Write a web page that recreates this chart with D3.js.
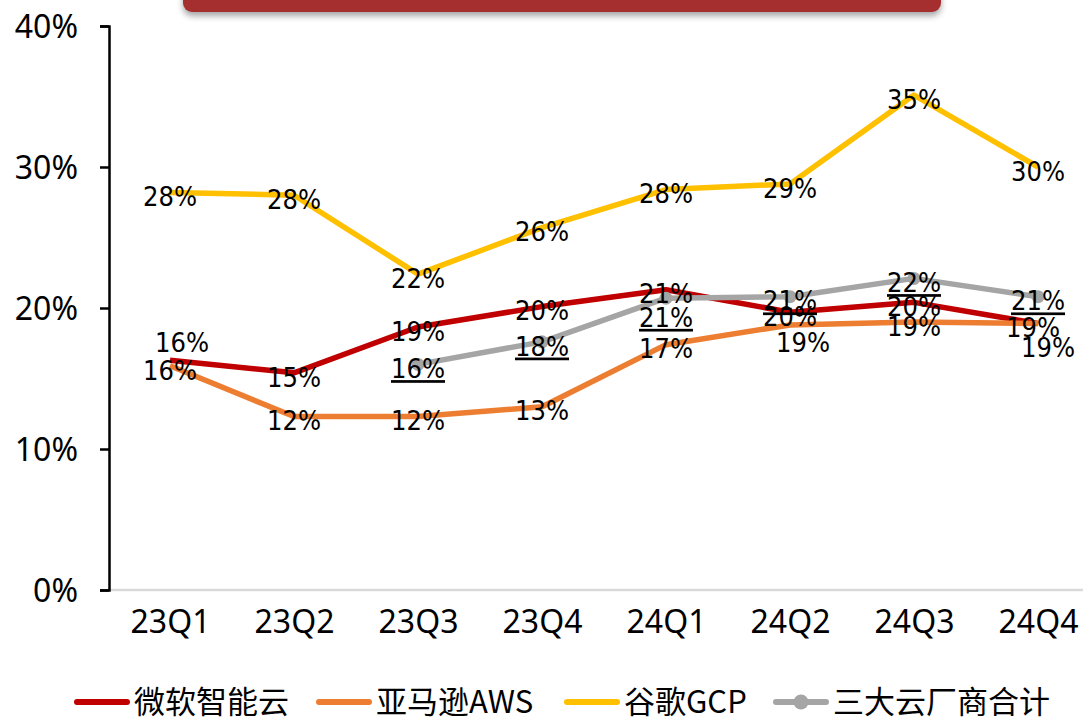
<!DOCTYPE html>
<html lang="zh">
<head>
<meta charset="utf-8">
<title>cloud growth</title>
<script src="https://cdn.jsdelivr.net/npm/d3@7"></script>
<style>
  body { margin: 0; background: #fff; }
  svg { display: block; }
  .tick text { font-family: "Noto Sans", "Open Sans", sans-serif; font-size: 32px; fill: #000; }
  .lbl { font-family: "DejaVu Sans Condensed", "DejaVu Sans", sans-serif; font-stretch: condensed; font-size: 27px; fill: #000; text-anchor: middle; }
  .legend text { font-family: "Noto Sans CJK SC", "Noto Sans", sans-serif; font-size: 31px; fill: #000; }
</style>
</head>
<body>
<div id="chart"></div>
<script>
// quarters and growth rates (yoy)
var quarters = ["23Q1", "23Q2", "23Q3", "23Q4", "24Q1", "24Q2", "24Q3", "24Q4"];
var azure = [0.163, 0.154, 0.1865, 0.201, 0.213, 0.197, 0.204, 0.189];
var aws   = [0.159, 0.123, 0.123, 0.130, 0.174, 0.188, 0.190, 0.189];
var gcp   = [0.282, 0.280, 0.224, 0.257, 0.284, 0.288, 0.351, 0.300];
var total = [null, null, 0.160, 0.176, 0.207, 0.208, 0.221, 0.208];
var yTicks = [0, 0.1, 0.2, 0.3, 0.4];
var names = ["微软智能云", "亚马逊AWS", "谷歌GCP", "三大云厂商合计"];

var series = [
  {name: names[0], values: azure, color: "#C00000"},
  {name: names[1], values: aws, color: "#ED7D31"},
  {name: names[2], values: gcp, color: "#FFC000"},
  {name: names[3], values: total, color: "#A5A5A5", marker: true, underline: true}
];

// a few labels Excel pushed aside to avoid overlap
var nudge = {
  "0-0": [12, -22],
  "3-4": [0, 15],
  "1-5": [13, 13],
  "1-7": [10, 20],
  "0-7": [-5, 0]
};

var width = 1083, height = 718;
var svg = d3.select("#chart").append("svg")
  .attr("width", width)
  .attr("height", height);

// title banner, mostly cropped at the top
svg.append("rect")
  .attr("x", 183).attr("y", -40)
  .attr("width", 758).attr("height", 52)
  .attr("rx", 9)
  .attr("fill", "#A52F2E")
  .style("filter", "drop-shadow(0px 4px 3px rgba(0,0,0,0.35))");

var x = d3.scalePoint().domain(quarters).range([170, 1038]);
var y = d3.scaleLinear().domain([0, 0.4]).range([590, 26]);

// x axis line
svg.append("line")
  .attr("x1", 109).attr("x2", width)
  .attr("y1", y(0)).attr("y2", y(0))
  .attr("stroke", "#D9D9D9").attr("stroke-width", 2.5);

var xAxis = svg.append("g")
  .attr("transform", "translate(0," + y(0) + ")")
  .call(d3.axisBottom(x).tickSize(0).tickPadding(20));
xAxis.select(".domain").remove();

var yAxis = svg.append("g")
  .attr("transform", "translate(109,0)")
  .call(d3.axisLeft(y).tickValues(yTicks).tickFormat(d3.format(".0%")).tickSize(9).tickSizeOuter(9).tickPadding(22));
yAxis.selectAll("path, line").attr("stroke", "#000").attr("stroke-width", 2.5);
yAxis.selectAll(".tick text").attr("dy", "0.36em");

var line = d3.line()
  .defined(function(d) { return d != null; })
  .x(function(d, i) { return x(quarters[i]); })
  .y(function(d) { return y(d); });

series.forEach(function(s) {
  svg.append("path")
    .datum(s.values)
    .attr("fill", "none")
    .attr("stroke", s.color)
    .attr("stroke-width", 5.5)
    .attr("stroke-linejoin", "round")
    .attr("d", line);
  if (s.marker) {
    svg.selectAll(null)
      .data(s.values.map(function(v, i) { return {v: v, q: quarters[i]}; }).filter(function(d) { return d.v != null; }))
      .enter().append("circle")
      .attr("cx", function(d) { return x(d.q); })
      .attr("cy", function(d) { return y(d.v); })
      .attr("r", 6.5)
      .attr("fill", s.color);
  }
});

// data labels
var fmt = d3.format(".0%");
series.forEach(function(s, si) {
  s.values.forEach(function(v, i) {
    if (v == null) return;
    var n = nudge[si + "-" + i] || [0, 0];
    svg.append("text")
      .attr("class", "lbl")
      .attr("x", x(quarters[i]) + n[0])
      .attr("y", y(v) + 4 + n[1])
      .attr("dy", "0.36em")
      .style("text-decoration", s.underline ? "underline" : null)
      .text(fmt(v));
  });
});

// legend
var legendX = [74, 316, 564, 773];
var legend = svg.append("g").attr("class", "legend");
series.forEach(function(s, i) {
  var g = legend.append("g").attr("transform", "translate(" + legendX[i] + ",702)");
  g.append("line")
    .attr("x1", 3).attr("x2", 53)
    .attr("stroke", s.color).attr("stroke-width", 6)
    .attr("stroke-linecap", "round");
  if (s.marker) g.append("circle").attr("cx", 28).attr("r", 7.5).attr("fill", s.color);
  g.append("text")
    .attr("x", 60)
    .attr("dy", "0.36em")
    .text(s.name);
});
</script>
</body>
</html>
